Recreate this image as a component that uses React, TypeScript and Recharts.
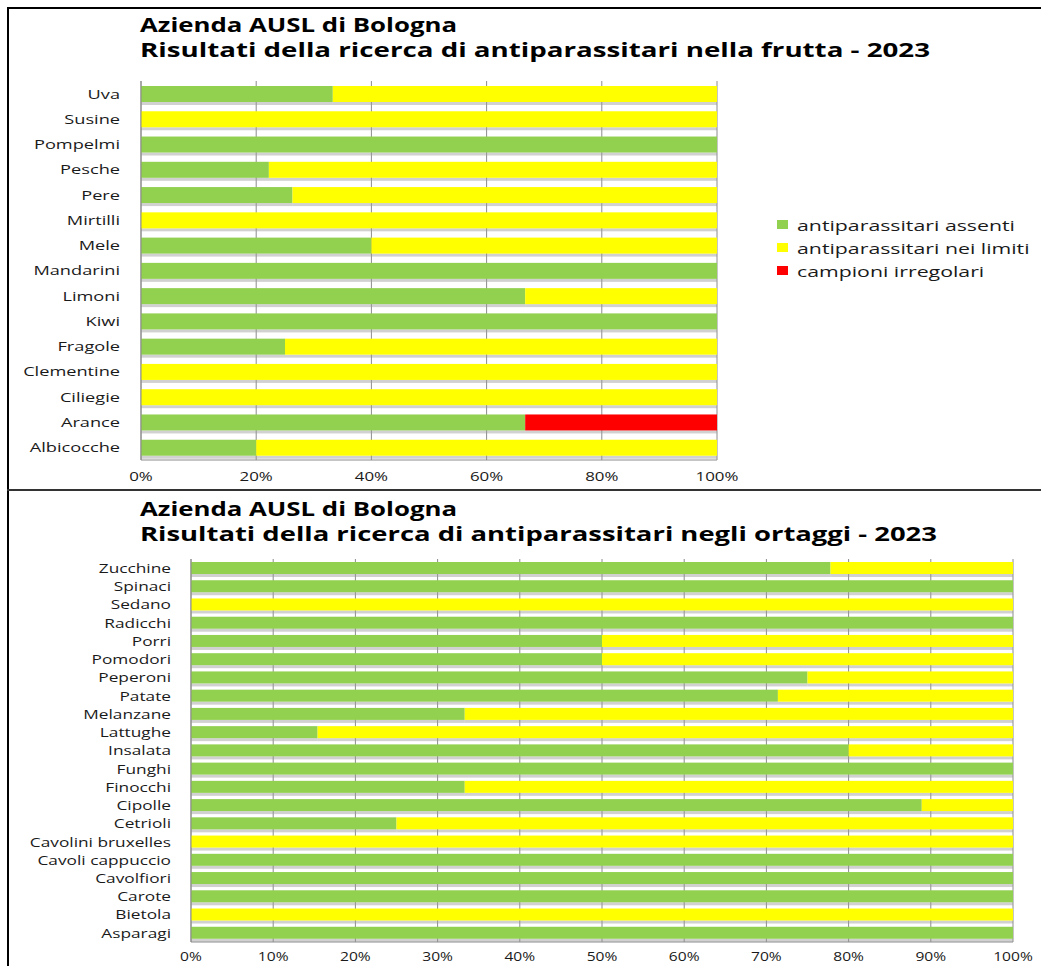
import React from 'react';
import { BarChart, Bar, XAxis, YAxis, CartesianGrid } from 'recharts';

const fruitCategories = ['Uva', 'Susine', 'Pompelmi', 'Pesche', 'Pere', 'Mirtilli', 'Mele', 'Mandarini', 'Limoni', 'Kiwi', 'Fragole', 'Clementine', 'Ciliegie', 'Arance', 'Albicocche'];
const fruitAssenti = [33.3, 0, 100, 22.2, 26.3, 0, 40, 100, 66.7, 100, 25, 0, 0, 66.7, 20];
const fruitNeiLimiti = [66.7, 100, 0, 77.8, 73.7, 100, 60, 0, 33.3, 0, 75, 100, 100, 0, 80];
const fruitIrregolari = [0, 0, 0, 0, 0, 0, 0, 0, 0, 0, 0, 0, 0, 33.3, 0];
const fruitTicks = [0, 20, 40, 60, 80, 100];

const vegCategories = ['Zucchine', 'Spinaci', 'Sedano', 'Radicchi', 'Porri', 'Pomodori', 'Peperoni', 'Patate', 'Melanzane', 'Lattughe', 'Insalata', 'Funghi', 'Finocchi', 'Cipolle', 'Cetrioli', 'Cavolini bruxelles', 'Cavoli cappuccio', 'Cavolfiori', 'Carote', 'Bietola', 'Asparagi'];
const vegAssenti = [77.8, 100, 0, 100, 50, 50, 75, 71.4, 33.3, 15.4, 80, 100, 33.3, 88.9, 25, 0, 100, 100, 100, 0, 100];
const vegNeiLimiti = [22.2, 0, 100, 0, 50, 50, 25, 28.6, 66.7, 84.6, 20, 0, 66.7, 11.1, 75, 100, 0, 0, 0, 100, 0];
const vegIrregolari = [0, 0, 0, 0, 0, 0, 0, 0, 0, 0, 0, 0, 0, 0, 0, 0, 0, 0, 0, 0, 0];
const vegTicks = [0, 10, 20, 30, 40, 50, 60, 70, 80, 90, 100];

const seriesNames = ['antiparassitari assenti', 'antiparassitari nei limiti', 'campioni irregolari'];
const seriesColors = ['#92D050', '#FFFF00', '#FF0000'];

const titleLine1 = 'Azienda AUSL di Bologna';
const fruitTitle2 = 'Risultati della ricerca di antiparassitari nella frutta - 2023';
const vegTitle2 = 'Risultati della ricerca di antiparassitari negli ortaggi - 2023';

const fruitData = fruitCategories.map((name, i) => ({
  name,
  assenti: fruitAssenti[i],
  limiti: fruitNeiLimiti[i],
  irregolari: fruitIrregolari[i],
}));
const vegData = vegCategories.map((name, i) => ({
  name,
  assenti: vegAssenti[i],
  limiti: vegNeiLimiti[i],
  irregolari: vegIrregolari[i],
}));

const FONT = '"Open Sans", "DejaVu Sans", sans-serif';

const makeYTick = (fontSize: number, sx: number, dx: number) => (props: any) => {
  const { x, y, payload } = props;
  return (
    <text
      x={0}
      y={0}
      transform={`translate(${x + dx},${y}) scale(${sx},1)`}
      textAnchor="end"
      dominantBaseline="central"
      fontFamily={FONT}
      fontSize={fontSize}
      fill="#1a1a1a"
    >
      {payload.value}
    </text>
  );
};

const makeXTick = (fontSize: number, sx: number, dy: number) => (props: any) => {
  const { x, y, payload } = props;
  return (
    <text
      x={0}
      y={0}
      transform={`translate(${x},${y + dy}) scale(${sx},1)`}
      textAnchor="middle"
      dominantBaseline="central"
      fontFamily={FONT}
      fontSize={fontSize}
      fill="#1a1a1a"
    >
      {`${payload.value}%`}
    </text>
  );
};

const ShadowBar = (props: any) => {
  const { x, y, width, height, fill } = props;
  if (!width || width <= 0) return <g />;
  return (
    <g>
      <rect x={x} y={y + height} width={width} height={3} fill="#9a9a9a" opacity={0.45} />
      <rect x={x} y={y} width={width} height={height} fill={fill} />
    </g>
  );
};

const Title = ({ top, line2, len2 }: { top: number; line2: string; len2: number }) => (
  <svg style={{ position: 'absolute', left: 0, top, overflow: 'visible' }} width={1041} height={60}>
    <text x={140} y={20} fontFamily={FONT} fontWeight="bold" fontSize={19} fill="#000" textLength={317} lengthAdjust="spacingAndGlyphs">
      {titleLine1}
    </text>
    <text x={140} y={45} fontFamily={FONT} fontWeight="bold" fontSize={19} fill="#000" textLength={len2} lengthAdjust="spacingAndGlyphs">
      {line2}
    </text>
  </svg>
);

export default function App() {
  return (
    <div style={{ position: 'absolute', left: 0, top: 0, width: 1041, height: 966, background: '#fff', overflow: 'hidden' }}>
      {/* borders */}
      <div style={{ position: 'absolute', left: 7, top: 7, width: 1034, height: 2, background: '#000' }} />
      <div style={{ position: 'absolute', left: 7, top: 7, width: 2, height: 959, background: '#000' }} />
      <div style={{ position: 'absolute', left: 7, top: 489, width: 1034, height: 2, background: '#333' }} />

      <Title top={12} line2={fruitTitle2} len2={790} />
      <Title top={496} line2={vegTitle2} len2={797} />

      {/* fruit chart */}
      <div style={{ position: 'absolute', left: 0, top: 0 }}>
        <BarChart width={1041} height={490} data={fruitData} layout="vertical" margin={{ top: 81, right: 324, bottom: 0, left: 0 }} barSize={16}>
          <CartesianGrid horizontal={false} stroke="#8c8c8c" />
          <XAxis
            type="number"
            domain={[0, 100]}
            ticks={fruitTicks}
            height={30}
            axisLine={{ stroke: '#8c8c8c' }}
            tickLine={false}
            tickSize={0}
            tickMargin={0}
            tick={makeXTick(13, 1.3, 16)}
            interval={0}
          />
          <YAxis
            type="category"
            dataKey="name"
            width={141}
            axisLine={{ stroke: '#8c8c8c' }}
            tickLine={false}
            tickSize={0}
            tickMargin={0}
            tick={makeYTick(13, 1.4, -21)}
            interval={0}
          />
          <Bar dataKey="assenti" name={seriesNames[0]} stackId="a" fill={seriesColors[0]} shape={ShadowBar} isAnimationActive={false} />
          <Bar dataKey="limiti" name={seriesNames[1]} stackId="a" fill={seriesColors[1]} shape={ShadowBar} isAnimationActive={false} />
          <Bar dataKey="irregolari" name={seriesNames[2]} stackId="a" fill={seriesColors[2]} shape={ShadowBar} isAnimationActive={false} />
        </BarChart>
      </div>

      {/* legend */}
      <svg style={{ position: 'absolute', left: 770, top: 210 }} width={271} height={75}>
        {seriesNames.map((n, i) => (
          <g key={n}>
            <rect x={7} y={10 + i * 23} width={11} height={9} fill={seriesColors[i]} />
            <text
              x={0}
              y={0}
              transform={`translate(27,${15 + i * 23}) scale(1.42,1)`}
              dominantBaseline="central"
              fontFamily={FONT}
              fontSize={15}
              fill="#1a1a1a"
            >
              {n}
            </text>
          </g>
        ))}
      </svg>

      {/* vegetable chart */}
      <div style={{ position: 'absolute', left: 0, top: 489 }}>
        <BarChart width={1041} height={477} data={vegData} layout="vertical" margin={{ top: 70, right: 28, bottom: 0, left: 0 }} barSize={12}>
          <CartesianGrid horizontal={false} stroke="#8c8c8c" />
          <XAxis
            type="number"
            domain={[0, 100]}
            ticks={vegTicks}
            height={24}
            axisLine={{ stroke: '#8c8c8c' }}
            tickLine={false}
            tickSize={0}
            tickMargin={0}
            tick={makeXTick(12, 1.3, 14)}
            interval={0}
          />
          <YAxis
            type="category"
            dataKey="name"
            width={191}
            axisLine={{ stroke: '#8c8c8c' }}
            tickLine={false}
            tickSize={0}
            tickMargin={0}
            tick={makeYTick(12, 1.44, -20)}
            interval={0}
          />
          <Bar dataKey="assenti" name={seriesNames[0]} stackId="a" fill={seriesColors[0]} shape={ShadowBar} isAnimationActive={false} />
          <Bar dataKey="limiti" name={seriesNames[1]} stackId="a" fill={seriesColors[1]} shape={ShadowBar} isAnimationActive={false} />
          <Bar dataKey="irregolari" name={seriesNames[2]} stackId="a" fill={seriesColors[2]} shape={ShadowBar} isAnimationActive={false} />
        </BarChart>
      </div>
    </div>
  );
}
